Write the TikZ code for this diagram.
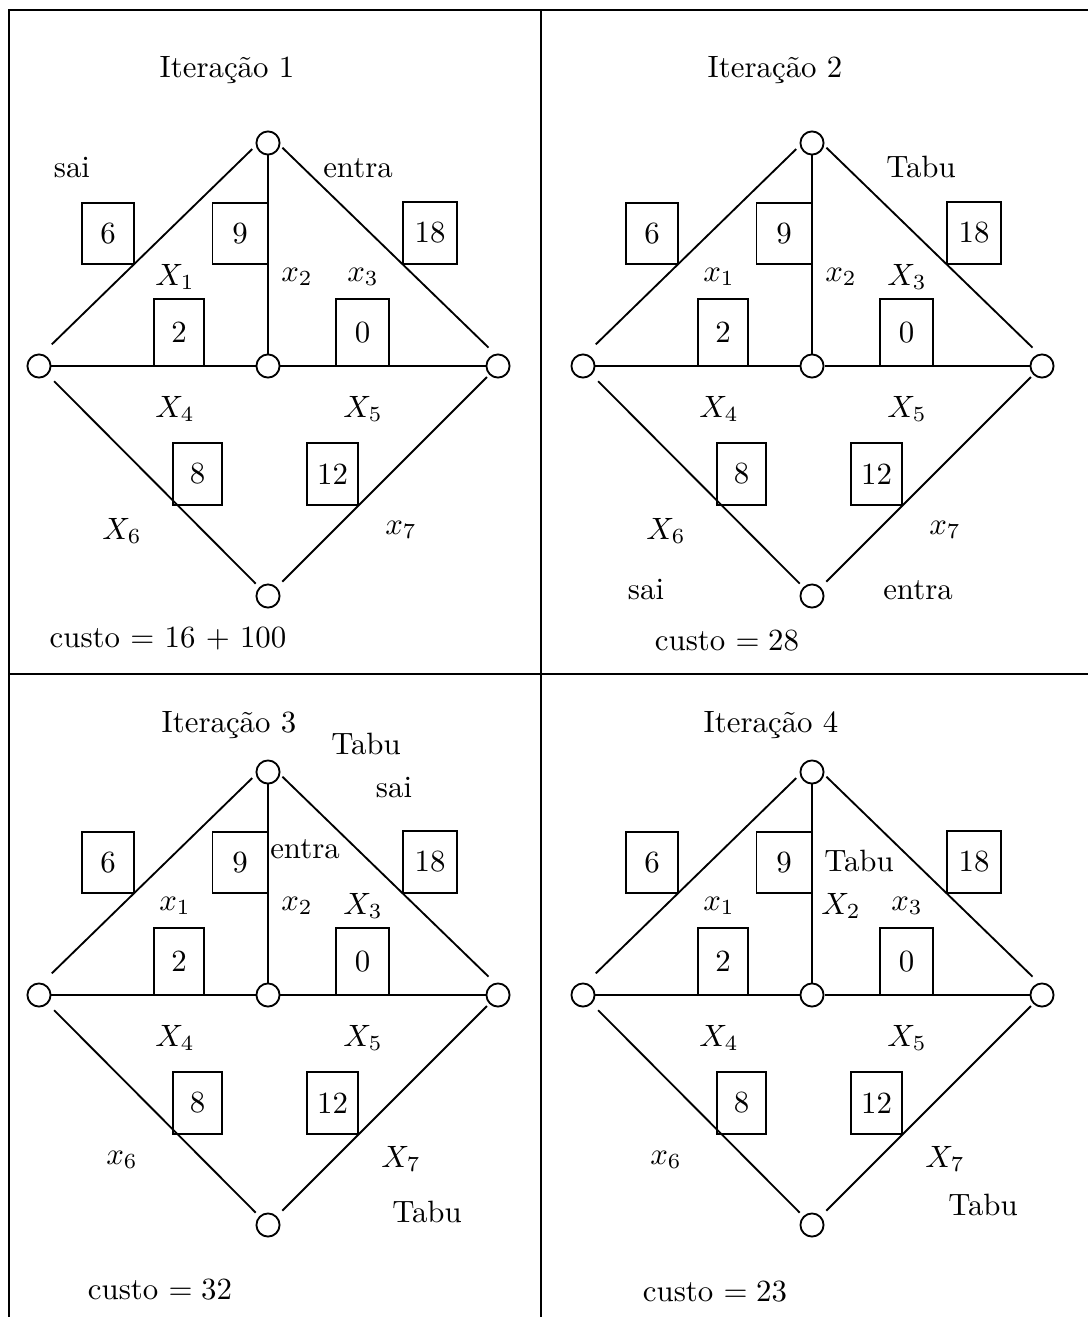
\documentclass[tikz,border=0pt]{standalone}
\usepackage{fontspec}
\usepackage{amsmath}

\tikzset{
  vert/.style={draw, circle, fill=white, minimum size=7.5pt, inner sep=0pt, line width=0.6pt},
  peso/.style={draw, rectangle, minimum width=17pt, minimum height=20pt, inner sep=0pt, line width=0.6pt},
  pesobase/.style={peso, minimum height=21.7pt},
  aresta/.style={line width=0.6pt},
  rotulo/.style={inner sep=1pt},
  moldura/.style={line width=0.9pt}
}

\begin{document}
\begin{tikzpicture}[x=0.0114cm, y=-0.0114cm]
\useasboundingbox (0,0) rectangle (1088,1317);

% moldura e divisoes
\draw[moldura] (9,1317) -- (9,10) -- (1088,10);
\draw[moldura] (541,10) -- (541,1317);
\draw[moldura] (9,674) -- (1088,674);

% o mesmo grafo em cada iteracao
\foreach \p/\dx/\dy/\va/\vb/\vc/\vf/\vg in {1/0/0/X/x/x/X/x, 2/544/0/x/x/X/X/x, 3/0/629/x/x/X/x/X, 4/544/629/x/X/x/x/X}{
  \begin{scope}[shift={(\dx,\dy)}]
    \node[vert] (T\p) at (268,143) {};
    \node[vert] (L\p) at (39,366) {};
    \node[vert] (C\p) at (268,366) {};
    \node[vert] (R\p) at (498,366) {};
    \node[vert] (B\p) at (268,596) {};

    \draw[aresta] (L\p) -- (C\p) -- (R\p);
    \draw[aresta] (T\p) -- (C\p);
    \draw[aresta, shorten <=1.6pt, shorten >=4.4pt] (T\p.192) -- (L\p.76);
    \draw[aresta, shorten <=1pt, shorten >=2.9pt] (T\p.348) -- (R\p.104);
    \draw[aresta, shorten <=2.9pt, shorten >=1.6pt] (L\p) -- (B\p);
    \draw[aresta, shorten <=2.5pt, shorten >=1pt] (B\p) -- (R\p);

    % custos das arestas
    \node[peso] (p6-\p) at (108,233.5) {6};
    \node[peso, minimum width=17.8pt] (p9-\p) at (240,233.5) {9};
    \node[peso, minimum width=17.5pt] (p18-\p) at (430,233) {18};
    \node[pesobase, minimum width=16.2pt] (p2-\p) at (179,332.5) {2};
    \node[pesobase] (p0-\p) at (362.5,332.5) {0};
    \node[peso, minimum width=16pt] (p8-\p) at (197.5,474) {8};
    \node[peso, minimum width=16.5pt] (p12-\p) at (332.5,474) {12};

    % variaveis
    \node[rotulo] (v1-\p) at (175,277) {$\va_1$};
    \node[rotulo] (v2-\p) at (297,277) {$\vb_2$};
    \node[rotulo] (v3-\p) at (363,277) {$\vc_3$};
    \node[rotulo] (v4-\p) at (175,409) {$X_4$};
    \node[rotulo] (v5-\p) at (363,409) {$X_5$};
    \node[rotulo] (v6-\p) at (122,531) {$\vf_6$};
    \node[rotulo] (v7-\p) at (401,530) {$\vg_7$};
  \end{scope}
}

% iteracao 1
\node (tit1) at (227,70) {Iteração 1};
\node (sai1) at (72,168) {sai};
\node (ent1) at (358,168) {entra};
\node (cus1) at (168,639) {custo $=$ 16 $+$ 100};

% iteracao 2
\node (tit2) at (775,70) {Iteração 2};
\node (tab2) at (921,167) {Tabu};
\node (sai2) at (646,590) {sai};
\node (ent2) at (918,590) {entra};
\node (cus2) at (727,641) {custo $= 28$};

% iteracao 3
\node (tit3) at (229,725) {Iteração 3};
\node (tab3a) at (366,744) {Tabu};
\node (sai3) at (394,788) {sai};
\node (ent3) at (305,849) {entra};
\node (tab3b) at (427,1212) {Tabu};
\node (cus3) at (160,1290) {custo $= 32$};

% iteracao 4
\node (tit4) at (771,725) {Iteração 4};
\node (tab4a) at (859,861) {Tabu};
\node (tab4b) at (983,1205) {Tabu};
\node (cus4) at (715,1292) {custo $= 23$};
\end{tikzpicture}
\end{document}
